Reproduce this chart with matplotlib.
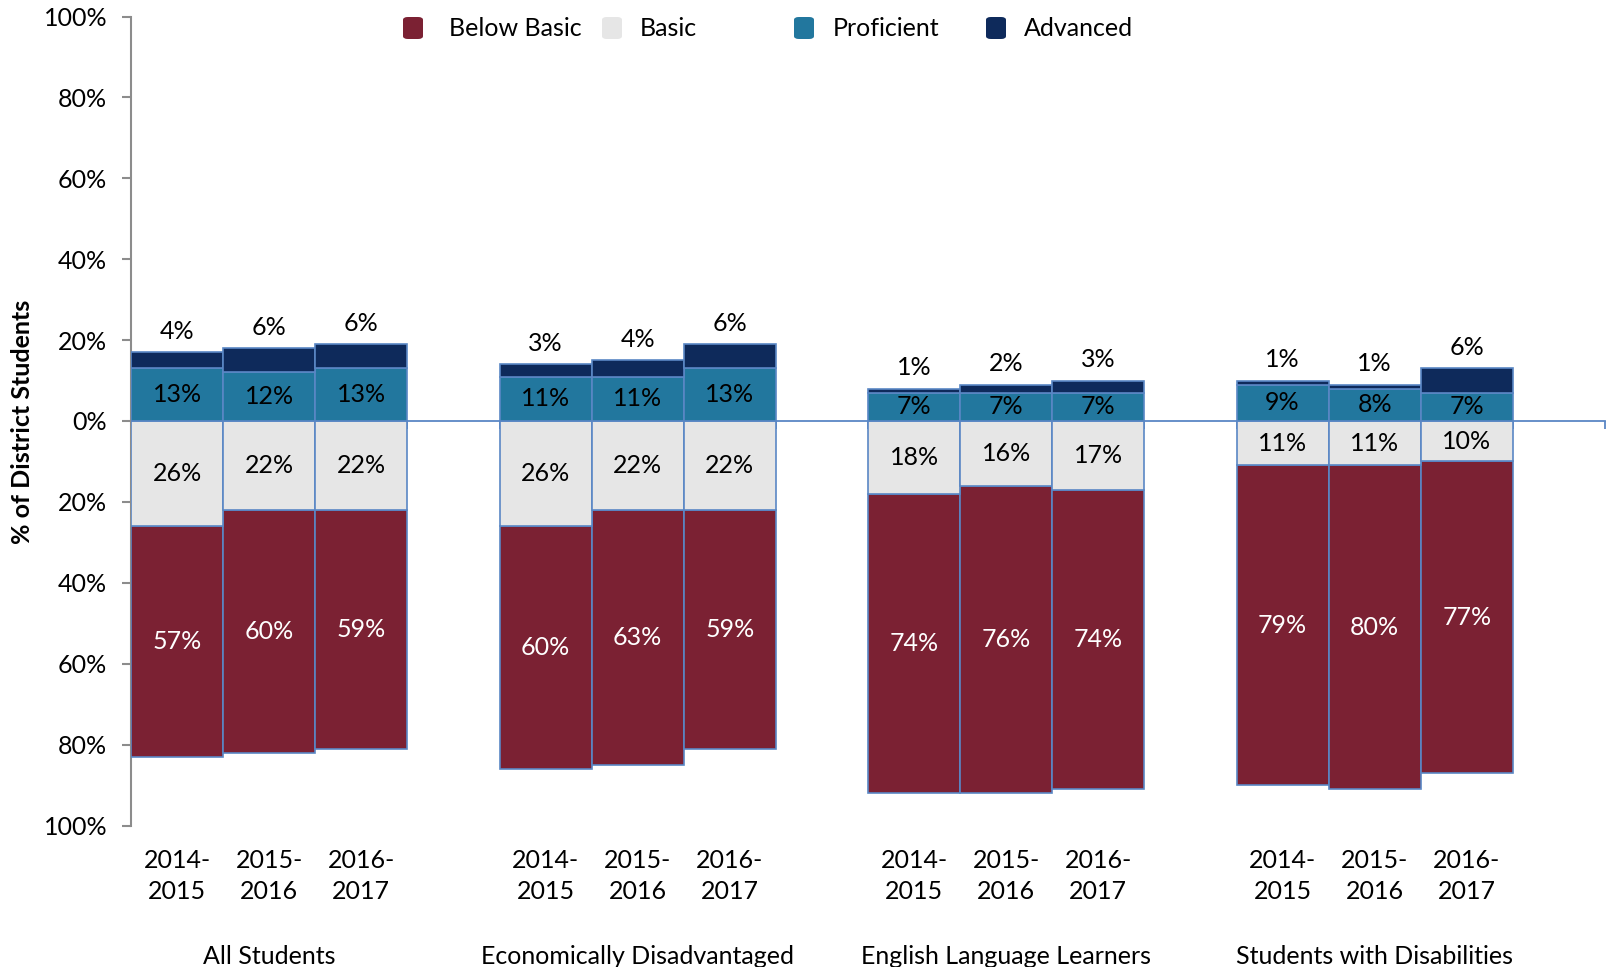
import numpy as np
import matplotlib
matplotlib.use("Agg")
import matplotlib.pyplot as plt
from matplotlib.patches import FancyBboxPatch

# данные: доли учащихся по уровням (%)
groups = ["All Students", "Economically Disadvantaged",
          "English Language Learners", "Students with Disabilities"]
years = ["2014-\n2015", "2015-\n2016", "2016-\n2017"]
levels = ["Below Basic", "Basic", "Proficient", "Advanced"]

below_basic = [57, 60, 59, 60, 63, 59, 74, 76, 74, 79, 80, 77]
basic = [26, 22, 22, 26, 22, 22, 18, 16, 17, 11, 11, 10]
proficient = [13, 12, 13, 11, 11, 13, 7, 7, 7, 9, 8, 7]
advanced = [4, 6, 6, 3, 4, 6, 1, 2, 3, 1, 1, 6]

colors = ["#7b2133", "#e6e6e6", "#22779e", "#0e2a5b"]
edge = "#5a87c5"

plt.rcParams["font.family"] = ["Lato", "DejaVu Sans"]
plt.rcParams["font.size"] = 18

W, H = 1614, 967
fig = plt.figure(figsize=(W / 100, H / 100), dpi=100)
ax = fig.add_axes([131 / W, 1 - 825.5 / H, 1474 / W, 809 / H])

# позиции столбцов: группы по 3, между группами пустой слот
x = np.array([4 * g + i + 0.5 for g in range(len(groups)) for i in range(len(years))])

bb = np.array(below_basic)
ba = np.array(basic)
pr = np.array(proficient)
ad = np.array(advanced)

kw = dict(width=1.0, edgecolor=edge, linewidth=1.2, zorder=3)
ax.bar(x, -bb, bottom=-ba, color=colors[0], **kw)
ax.bar(x, -ba, color=colors[1], **kw)
ax.bar(x, pr, color=colors[2], **kw)
ax.bar(x, ad, bottom=pr, color=colors[3], **kw)

# подписи значений
for xi, b, s, p, a in zip(x, bb, ba, pr, ad):
    ax.text(xi, -s - b / 2, f"{b}%", ha="center", va="center", color="white", zorder=4)
    ax.text(xi, -s / 2, f"{s}%", ha="center", va="center", color="black", zorder=4)
    ax.text(xi, p / 2, f"{p}%", ha="center", va="center", color="black", zorder=4)
    ax.annotate(f"{a}%", (xi, p + a), xytext=(0, 21), textcoords="offset pixels",
                ha="center", va="center", color="black", zorder=4)

ax.set_xlim(0, 16)
ax.set_ylim(-100, 100)
yt = np.arange(-100, 101, 20)
ax.set_yticks(yt)
ax.set_yticklabels([f"{abs(v)}%" for v in yt])

for s in ["top", "right"]:
    ax.spines[s].set_visible(False)
ax.spines["left"].set_color("#8c8c8c")
ax.spines["left"].set_linewidth(1.5)
ax.spines["bottom"].set_position(("data", 0))
ax.spines["bottom"].set_color(edge)
ax.spines["bottom"].set_linewidth(1.3)
ax.spines["bottom"].set_zorder(2)

ax.tick_params(axis="y", direction="out", length=6.2, width=1.5, color="#8c8c8c", pad=11)
ax.set_xticks(np.arange(0, 17))
ax.set_xticklabels([])
ax.tick_params(axis="x", direction="out", length=6, width=1.3, color=edge)

# подписи категорий под осью
for xi, yl in zip(x, years * len(groups)):
    ax.text(xi, -112.5, yl, ha="center", va="center", linespacing=1.38, clip_on=False)
for g, name in enumerate(groups):
    ax.text(4 * g + 1.5, -132.5, name, ha="center", va="center", clip_on=False)

fig.text(23 / W, 1 - 422 / H, "% of District Students", rotation=90,
         ha="center", va="center", fontweight="bold", fontsize=18)

# легенда
mx = [413, 612, 804, 996]
tx = [449, 640, 833, 1024]
my = 28
for c, lab, m, t in zip(colors, levels, mx, tx):
    box = FancyBboxPatch(((m - 10) / W, 1 - (my + 11) / H), 20 / W, 22 / H,
                         boxstyle="round,pad=0,rounding_size=0.003",
                         transform=fig.transFigure, facecolor=c, edgecolor="none")
    fig.add_artist(box)
    fig.text(t / W, 1 - (my + 1) / H, lab, ha="left", va="center")

fig.savefig("out.png", dpi=100)
